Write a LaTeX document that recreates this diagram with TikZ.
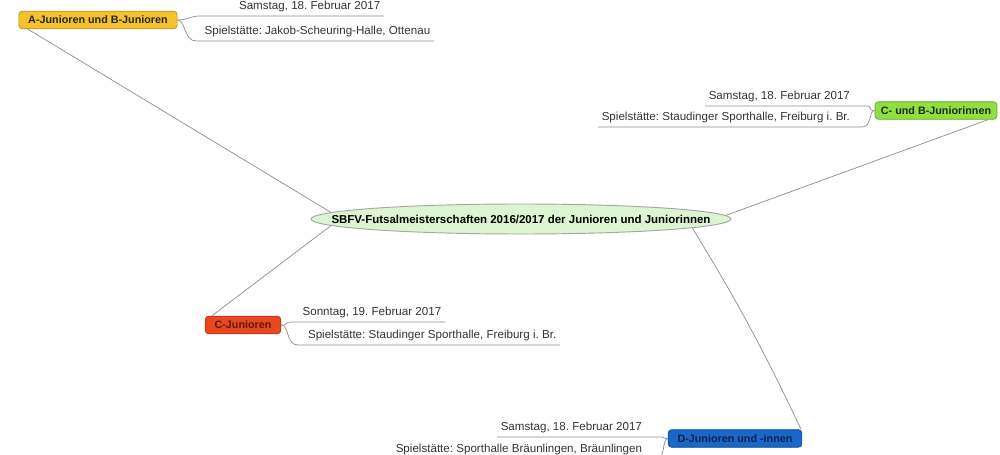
\documentclass[tikz,border=0pt]{standalone}
\usepackage{fontspec}
\setmainfont{Liberation Sans}
\frenchspacing
\usetikzlibrary{shapes.geometric}
\definecolor{hubfill}{HTML}{DCF4CF}
\definecolor{ajun}{HTML}{F3C22C}
\definecolor{cbjun}{HTML}{8DE03E}
\definecolor{cjun}{HTML}{E9471F}
\definecolor{djun}{HTML}{1867C9}
\tikzset{
	hub/.style={ellipse, draw=black!35, fill=hubfill, line width=0.8pt, inner sep=0pt, minimum width=12.6cm, minimum height=0.9cm, font=\fontsize{9.8}{12}\selectfont\bfseries},
	topic/.style={rectangle, rounded corners=3pt, draw=#1!75!black, fill=#1, line width=0.6pt, inner xsep=8pt, inner ysep=0pt, minimum height=0.53cm, font=\fontsize{9.2}{11}\selectfont\bfseries},
	info/.style={inner xsep=3pt, inner ysep=3pt, font=\fontsize{9.9}{12}\selectfont, text=black!80},
	link/.style={draw=black!45, line width=0.6pt},
}
\begin{document}
\begin{tikzpicture}[x=0.03cm, y=-0.03cm]
	\useasboundingbox (0,0) rectangle (1000,455);
	\node[hub] (hub) at (521,219) {\makebox[0pt]{SBFV-Futsalmeisterschaften 2016/2017 der Junioren und Juniorinnen}};
	\node[topic=ajun, text=black!85] (ajr) at (98,20) {A-Junioren und B-Junioren};
	\node[topic=cbjun, inner xsep=5pt, text=black!85] (cbj) at (936,110.5) {C- und B-Juniorinnen};
	\node[topic=cjun, text=cjun!40!black] (cjr) at (243,325) {C-Junioren};
	\node[topic=djun, text=djun!35!black] (djr) at (735,438.5) {D-Junioren und -innen};
	\node[info, anchor=south east] (adate) at (384,16) {Samstag, 18. Februar 2017};
	\node[info, anchor=south east] (aplace) at (434,41) {Spielstätte: Jakob-Scheuring-Halle, Ottenau};
	\node[info, anchor=south west] (cbdate) at (705,106) {Samstag, 18. Februar 2017};
	\node[info, anchor=south west] (cbplace) at (598,127) {Spielstätte: Staudinger Sporthalle, Freiburg i. Br.};
	\node[info, anchor=south east] (cdate) at (445,322) {Sonntag, 19. Februar 2017};
	\node[info, anchor=south east] (cplace) at (560,345) {Spielstätte: Staudinger Sporthalle, Freiburg i. Br.};
	\node[info, anchor=south west] (ddate) at (497,437) {Samstag, 18. Februar 2017};
	\node[info, anchor=south west] (dplace) at (392,459) {Spielstätte: Sporthalle Bräunlingen, Bräunlingen};
	\coordinate (a1) at (200,16);
	\coordinate (a2) at (196,41);
	\coordinate (cb1) at (866,106);
	\coordinate (cb2) at (862,127);
	\coordinate (c1) at (292,322);
	\coordinate (c2) at (298,345);
	\coordinate (d1) at (660,437);
	\coordinate (d2) at (656,459);
	\draw[link] ([xshift=8pt]ajr.south west) -- (hub.178.5);
	\draw[link] ([xshift=6pt]cjr.north west) -- (hub.182);
	\draw[link] ([xshift=-8pt]cbj.south east) -- (hub.1.5);
	\draw[link] (hub.-3.5) to[bend left=3] ([xshift=-1pt]djr.north east);
	\draw[link] (ajr.east) .. controls +(10,0) and +(-10,0) .. (a1) -- (adate.south east);
	\draw[link] (ajr.east) .. controls +(8,0) and +(-12,0) .. (a2) -- (aplace.south east);
	\draw[link] (cbj.west) .. controls +(-8,0) and +(8,0) .. (cb1) -- (cbdate.south west);
	\draw[link] (cbj.west) .. controls +(-6,0) and +(10,0) .. (cb2) -- (cbplace.south west);
	\draw[link] (cjr.east) .. controls +(8,0) and +(-8,0) .. (c1) -- (cdate.south east);
	\draw[link] (cjr.east) .. controls +(8,0) and +(-12,0) .. (c2) -- (cplace.south east);
	\draw[link] (djr.west) .. controls +(-6,0) and +(6,0) .. (d1) -- (ddate.south west);
	\draw[link] (djr.west) .. controls +(-6,0) and +(10,0) .. (d2) -- (dplace.south west);
\end{tikzpicture}
\end{document}
